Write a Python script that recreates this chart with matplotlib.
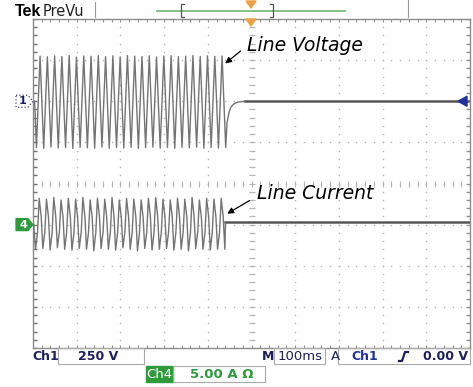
import numpy as np
import matplotlib.pyplot as plt
from matplotlib.patches import Polygon, Rectangle
from matplotlib.lines import Line2D

# ---- data ----
# time base: 100 ms/div, 10 div; Ch1 250 V/div, Ch4 5 A/div
half_period_ms = 8.33
cutoff_ms = 441.0

volt_peaks = [-282, 274, -286, 270, -279, 276, -284, 272, -281, 278,
              -287, 269, -280, 275, -283, 273, -285, 277, -279, 271,
              -286, 276, -281, 270, -284, 278, -280, 274, -287, 272,
              -282, 276, -279, 269, -285, 275, -281, 277, -286, 271,
              -280, 274, -283, 278, -279, 272, -285, 276, -281, 273,
              -284, 275, -282]
volt_decay_t = [441.6, 443.9, 448.5, 453.0, 460.0, 469.0, 485.0]
volt_decay_v = [-282, -130, -70, -35, -15, -5, 0]

curr_peaks = [-3.0, 3.2, -2.9, 3.1, -3.1, 3.3, -2.8, 3.0, -3.0, 3.2,
              -3.1, 3.1, -2.9, 3.3, -3.0, 3.0, -3.2, 3.2, -2.9, 3.1,
              -3.0, 3.3, -3.1, 3.0, -2.8, 3.2, -3.0, 3.1, -3.2, 3.0,
              -2.9, 3.2, -3.1, 3.3, -3.0, 3.1, -2.9, 3.0, -3.1, 3.2,
              -3.0, 3.1, -3.2, 3.3, -2.9, 3.0, -3.0, 3.2, -3.1, 3.1,
              -3.0, 3.2, -3.0]
curr_knee = 0.3  # shoulder on the falling side, fraction of previous peak

W, H = 473, 387
fig = plt.figure(figsize=(W / 100, H / 100), dpi=100)
fig.patch.set_facecolor('white')


def fx(px):
    return px / W


def fy(py):
    return 1 - py / H


L, R, T, B = 33, 470, 19, 348
rect = [fx(L), fy(B), (R - L) / W, (B - T) / H]
ax = fig.add_axes(rect)
ax.set_xlim(0, 1000)
ax.set_ylim(-1500, 500)
ax.set_xticks([])
ax.set_yticks([])
for s in ax.spines.values():
    s.set_color('#8a8a8a')
    s.set_linewidth(1.0)

ax2 = fig.add_axes(rect, frameon=False)
ax2.set_xlim(0, 1000)
ax2.set_ylim(-15, 25)
ax2.axis('off')

# ---- graticule ----
grid_c = '#b4b4b4'
vdiv = 250
for i in range(1, 10):
    ys = np.arange(-1500, 501, vdiv / 5)
    ax.plot(np.full(ys.shape, i * 100), ys, ls='none', marker='s', ms=1.0,
            color=grid_c, mew=0)
for j in range(1, 8):
    xs = np.arange(0, 1001, 20)
    ax.plot(xs, np.full(xs.shape, -1500 + j * vdiv), ls='none', marker='s',
            ms=1.0, color=grid_c, mew=0)
# centre ticks
ys = np.arange(-1500, 501, vdiv / 5)
ax.plot(np.full(ys.shape, 500), ys, ls='none', marker='_', ms=5, mew=0.8, color=grid_c)
xs = np.arange(0, 1001, 20)
ax.plot(xs, np.full(xs.shape, -500), ls='none', marker='|', ms=5, mew=0.8, color=grid_c)
# border ticks
ax.plot(np.full(ys.shape, 0), ys, ls='none', marker='_', ms=6, mew=1.0, color='#707070')
ax.plot(np.full(ys.shape, 1000), ys, ls='none', marker='_', ms=6, mew=1.0, color='#909090')
ax.plot(xs, np.full(xs.shape, 500), ls='none', marker='|', ms=5, mew=0.8, color='#909090')
ax.plot(xs, np.full(xs.shape, -1500), ls='none', marker='|', ms=5, mew=0.8, color='#909090')

# ---- traces ----
trace_c = '#747474'
n = len(volt_peaks)
vt = [cutoff_ms - (n - 1 - i) * half_period_ms for i in range(n)]
vx = [vt[0] - half_period_ms / 2] + vt + volt_decay_t[1:]
vy = [0] + volt_peaks + volt_decay_v[1:]
ax.plot(vx, vy, color=trace_c, lw=1.0)
ax.plot([volt_decay_t[-1], 1000], [0, 0], color='#7a7a7a', lw=2.0)
ax.plot([volt_decay_t[-1], 1000], [0, 0], color='#505050', lw=0.8)

m = len(curr_peaks)
ct = [cutoff_ms - 2 - (m - 1 - i) * half_period_ms for i in range(m)]
cx, cy = [ct[0] - half_period_ms / 2], [0.0]
for i in range(m):
    cx.append(ct[i])
    cy.append(curr_peaks[i])
    if i < m - 1:
        cx.append(ct[i] + 0.55 * half_period_ms)
        cy.append(curr_knee * curr_peaks[i])
cx += [ct[-1] + 1.5]
cy += [0.0]
ax2.plot(cx, cy, color=trace_c, lw=1.0)
ax2.plot([cx[-1], 1000], [0.3, 0.3], color='#7a7a7a', lw=2.0)
ax2.plot([cx[-1], 1000], [0.3, 0.3], color='#505050', lw=0.8)

# ---- annotations ----
afont = dict(family='DejaVu Sans', style='italic', fontsize=13.5)
ax.text(490, 341, 'Line Voltage', ha='left', va='center', **afont)
ax.annotate('', xy=(435, 219), xytext=(480, 316),
            arrowprops=dict(arrowstyle='-|>', color='black', lw=0.9,
                            mutation_scale=9))
ax2.text(513, 3.83, 'Line Current', ha='left', va='center', **afont)
ax2.annotate('', xy=(439, 1.16), xytext=(501, 3.1),
             arrowprops=dict(arrowstyle='-|>', color='black', lw=0.9,
                             mutation_scale=9))

# ---- channel markers ----
navy = '#1c1f5c'
green = '#2f9a3c'
g1 = ax.transData.transform((0, 0))[1] / H
g4 = ax2.transData.transform((0, 0))[1] / H
h = 6 / H


def marker(gy, fc, ec, ls, label, tc):
    pts = [(fx(16), gy + h), (fx(28), gy + h), (fx(33), gy),
           (fx(28), gy - h), (fx(16), gy - h)]
    fig.add_artist(Polygon(pts, closed=True, fc=fc, ec=ec, lw=0.9, ls=ls,
                           transform=fig.transFigure))
    fig.text(fx(23), gy, label, ha='center', va='center', fontsize=8,
             weight='bold', color=tc)


marker(g1, 'white', '#44447a', ':', '1', navy)
marker(g4, green, green, '-', '4', 'white')
# trigger level arrow on the right
fig.add_artist(Polygon([(fx(458), g1), (fx(467), g1 + 5 / H), (fx(467), g1 - 5 / H)],
                       closed=True, fc='#2030a0', ec='#2030a0', transform=fig.transFigure))

# ---- top bar ----
fig.text(fx(15), fy(12), 'Tek', fontsize=11.5, weight='bold', va='center',
         family='Liberation Sans')
fig.text(fx(43), fy(11), 'PreVu', fontsize=10.5, va='center', color='#222222')
fig.add_artist(Line2D([fx(95), fx(95)], [fy(2), fy(17)], color='#999999', lw=0.8))
fig.add_artist(Line2D([fx(408), fx(408)], [fy(0), fy(17)], color='#999999', lw=0.8))
fig.add_artist(Line2D([fx(157), fx(345)], [fy(11), fy(11)], color='#7dbb7d', lw=1.3))
fig.add_artist(Line2D([fx(184), fx(181), fx(181), fx(184)],
                      [fy(4), fy(4), fy(17), fy(17)], color='#555555', lw=0.9))
fig.add_artist(Line2D([fx(270), fx(273), fx(273), fx(270)],
                      [fy(4), fy(4), fy(17), fy(17)], color='#555555', lw=0.9))
orange = '#f0a040'
for top in (1, 19):
    fig.add_artist(Polygon([(fx(246), fy(top)), (fx(256), fy(top)), (fx(251), fy(top + 7))],
                           closed=True, fc=orange, ec=orange, transform=fig.transFigure))

# ---- bottom bar ----
bfont = dict(fontsize=9, weight='bold', va='center')
fig.text(fx(32), fy(356), 'Ch1', color=navy, **bfont)
fig.add_artist(Rectangle((fx(58), fy(364)), (144 - 58) / W, 16 / H, fill=False,
                         ec='#aaaaaa', lw=0.8, transform=fig.transFigure))
fig.text(fx(78), fy(356), '250 V', color=navy, **bfont)
fig.text(fx(262), fy(356), 'M', color=navy, **bfont)
fig.add_artist(Rectangle((fx(274), fy(364)), (325 - 274) / W, 16 / H, fill=False,
                         ec='#aaaaaa', lw=0.8, transform=fig.transFigure))
fig.text(fx(278), fy(356), '100ms', color=navy, fontsize=9.5, va='center')
fig.text(fx(331), fy(356), 'A', color=navy, fontsize=9.5, va='center')
fig.add_artist(Rectangle((fx(338), fy(364)), (470 - 338) / W, 16 / H, fill=False,
                         ec='#aaaaaa', lw=0.8, transform=fig.transFigure))
fig.text(fx(351), fy(356), 'Ch1', color='#2030a0', **bfont)
fig.add_artist(Line2D([fx(399), fx(402), fx(405), fx(408)],
                      [fy(361), fy(361), fy(352), fy(352)], color=navy, lw=1.6))
fig.text(fx(468), fy(356), '0.00 V', color=navy, ha='right', **bfont)

fig.add_artist(Rectangle((fx(146), fy(382)), (173 - 146) / W, 16 / H, fc=green,
                         ec=green, transform=fig.transFigure))
fig.text(fx(159.5), fy(374), 'Ch4', color='white', ha='center', fontsize=9.5,
         va='center')
fig.add_artist(Rectangle((fx(173), fy(382)), (265 - 173) / W, 16 / H, fill=False,
                         ec='#aaaaaa', lw=0.8, transform=fig.transFigure))
fig.text(fx(190), fy(374), '5.00 A \u03a9', color=green, fontsize=9.5,
         weight='bold', va='center')

fig.savefig('out.png', dpi=100)
